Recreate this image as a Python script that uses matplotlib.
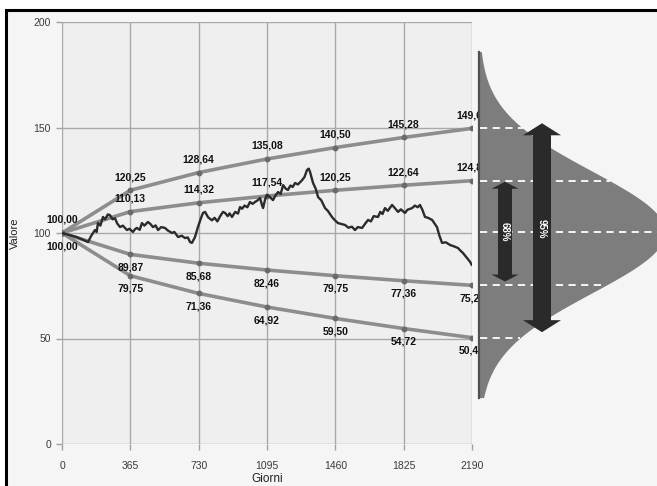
import numpy as np
import matplotlib
matplotlib.use("Agg")
import matplotlib.pyplot as plt
from matplotlib.patches import Rectangle, Polygon
from matplotlib.transforms import Bbox

# ---------------- data ----------------
days = [0, 365, 730, 1095, 1460, 1825, 2190]
upper_95 = [100.00, 120.25, 128.64, 135.08, 140.50, 145.28, 149.60]
upper_68 = [100.00, 110.13, 114.32, 117.54, 120.25, 122.64, 124.80]
lower_68 = [100.00, 89.87, 85.68, 82.46, 79.75, 77.36, 75.20]
lower_95 = [100.00, 79.75, 71.36, 64.92, 59.50, 54.72, 50.40]

path_days = [0, 40, 80, 120, 139, 155, 176, 185, 192, 205, 219, 230, 245, 256, 270, 283, 295, 310,
             325, 347, 360, 379, 390, 400, 415, 427, 440, 459, 472, 486, 500, 513, 530, 550, 565,
             588, 600, 620, 640, 657, 672, 684, 694, 710, 725, 740, 753, 764, 780, 801, 815, 830,
             845, 860, 871, 885, 895, 908, 925, 940, 951, 962, 975, 990, 1004, 1018, 1031, 1045,
             1058, 1068, 1074, 1085, 1095, 1111, 1127, 1140, 1154, 1168, 1181, 1195, 1207, 1220,
             1232, 1245, 1260, 1282, 1295, 1309, 1318, 1325, 1341, 1355, 1368, 1385, 1405, 1420,
             1442, 1458, 1474, 1490, 1512, 1530, 1548, 1565, 1580, 1603, 1620, 1635, 1650, 1665,
             1688, 1700, 1712, 1725, 1740, 1763, 1778, 1795, 1810, 1832, 1845, 1870, 1885, 1900,
             1912, 1925, 1939, 1955, 1977, 1990, 2003, 2015, 2030, 2050, 2073, 2090, 2115, 2130,
             2142, 2160, 2180, 2188]
path_vals = [100, 99, 98, 96.5, 95.7, 98.5, 101.4, 100.5, 104.7, 103.5, 107.6, 106.5, 108.8, 108.5,
             106.5, 107, 104.5, 102.8, 103.5, 101.4, 102, 100.5, 101.8, 102.4, 101.5, 104.7, 103.5,
             105.2, 104.3, 102.8, 103.6, 101.4, 102.8, 102.4, 101.2, 100, 100.5, 98.1, 98.7, 97.6,
             97.9, 95.7, 95.3, 98, 102.5, 106.5, 109.5, 110, 107.5, 106, 107.2, 105.5, 108, 110,
             109.5, 108, 109.3, 107.6, 110, 109.2, 112.3, 111.5, 113, 112.2, 114.7, 113.8, 114.7,
             115.5, 116.6, 113.3, 111.8, 116, 118, 117, 115.6, 117.8, 119.4, 118.5, 122.7, 121,
             120.4, 122.5, 121.8, 123.7, 123, 125, 126.5, 129.9, 130.5, 128.9, 123.7, 121, 117,
             115.5, 111.8, 110.5, 107.6, 106, 104.7, 104.3, 103.8, 102.5, 103, 101.4, 102.8, 102.4,
             104.5, 106.2, 105.5, 108, 107.6, 110, 109, 111.8, 110.5, 113.3, 111.8, 110, 111.2,
             109.5, 111, 111.8, 113, 112.2, 113.3, 111, 107.6, 107.2, 106.2, 104.5, 102.8, 99,
             95.3, 95.6, 94.3, 93.8, 92.9, 91.5, 90.5, 88.5, 86.3, 85]

x_ticks = [0, 365, 730, 1095, 1460, 1825, 2190]
y_ticks = [0, 50, 100, 150, 200]
x_label = "Giorni"
y_label = "Valore"

# distribution on the right
bell_mean = 100.5
bell_sigma = 28.9
bell_low, bell_high = 22, 186
band_levels = [149.60, 124.80, 100.5, 75.20, 50.40]
arrow_68 = (77.0, 124.3)
arrow_95 = (53.0, 152.0)
arrow_labels = ["68%", "95%"]

# ---------------- figure ----------------
W, H = 657, 486
fig = plt.figure(figsize=(W / 100, H / 100), dpi=100, facecolor="white")

def fx(px):
    return px / W

def fy(py):
    return 1 - py / H

# frame / background
fig.add_artist(Rectangle((fx(6), fy(H + 20)), 1.2, fy(10) - fy(H + 20),
                         transform=fig.transFigure, facecolor="#f5f5f5",
                         edgecolor="black", lw=2.2, zorder=-5))

x0p, x1p, y0p, y1p = 62, 472, 444, 22
ax = fig.add_axes([fx(x0p), fy(y0p), fx(x1p) - fx(x0p), fy(y1p) - fy(y0p)])
ax.set_facecolor("#efefef")
ax.set_xlim(0, 2190)
ax.set_ylim(0, 200)
ax.set_xticks(x_ticks)
ax.set_yticks(y_ticks)
for s in ax.spines.values():
    s.set_visible(False)
ax.grid(True, color="#a9a9a9", lw=1.0)
ax.set_axisbelow(True)
ax.tick_params(axis="both", colors="#a0a0a0", length=4, width=1,
               labelcolor="#3a3a3a", labelsize=7.5)
for lab in ax.get_xticklabels() + ax.get_yticklabels():
    lab.set_family("Liberation Sans")
ax.tick_params(axis="x", pad=8)
ax.tick_params(axis="y", pad=4)

fig.text(fx(15), fy(233), y_label, rotation=90, ha="center", va="center",
         fontsize=8, family="Liberation Sans", color="#222222")
fig.text(fx(267), fy(478.5), x_label, ha="center", va="center",
         fontsize=8.5, family="Liberation Sans", color="#222222")

line_col = "#8d8d8d"
for series in (upper_95, upper_68, lower_68, lower_95):
    ax.plot(days, series, color=line_col, lw=2.6, zorder=3, solid_capstyle="round")
    ax.plot(days, series, ls="none", marker="o", ms=3.2, color="#6a6a6a", zorder=4)

ax.plot(path_days, path_vals, color="#2b2b2b", lw=1.7, zorder=5)

def fmt(v):
    return f"{v:.2f}".replace(".", ",")

clipbox = Bbox.from_extents(0, 0, 479, H)
lab_kw = dict(ha="center", va="center", fontsize=7.5, fontweight="bold",
              family="Liberation Sans", color="#111111", zorder=6,
              annotation_clip=False, textcoords="offset points")
off = 9.5  # points

def label(v, d, dy):
    t = ax.annotate(fmt(v), (d, v), xytext=(0, dy), **lab_kw)
    t.set_clip_on(True)
    t.set_clip_box(clipbox)

for i, d in enumerate(days):
    if i == 0:
        label(upper_95[0], d, off)
        label(lower_95[0], d, -off)
        continue
    for series in (upper_95, upper_68):
        label(series[i], d, off)
    for series in (lower_68, lower_95):
        label(series[i], d, -off)

# ---------------- bell panel ----------------
bx0 = 479
ax2 = fig.add_axes([fx(bx0), fy(y0p), fx(W) - fx(bx0), fy(y1p) - fy(y0p)])
ax2.set_xlim(0, W - bx0)
ax2.set_ylim(0, 200)
ax2.axis("off")
ax2.patch.set_alpha(0)

peak = 186
yy = np.linspace(bell_low, bell_high, 400)
xx = peak * np.exp(-0.5 * ((yy - bell_mean) / bell_sigma) ** 2)
ax2.fill_betweenx(yy, 0, xx, color="#7d7d7d", lw=0, clip_on=False, zorder=1)
ax2.plot([0, 0], [bell_low, bell_high], color="#505050", lw=1.6, zorder=2, clip_on=False)

for lvl in band_levels:
    xe = peak * np.exp(-0.5 * ((lvl - bell_mean) / bell_sigma) ** 2)
    ax2.plot([1, xe], [lvl, lvl], color="white", lw=1.3, ls=(0, (4, 3)), zorder=3, clip_on=False)

ppu = (y0p - y1p) / 200.0  # pixels per value unit

def dbl_arrow(xc, ylo, yhi, body, head_w, head_l_px):
    hl = head_l_px / ppu
    pts = [
        (xc, yhi), (xc + head_w / 2, yhi - hl), (xc + body / 2, yhi - hl),
        (xc + body / 2, ylo + hl), (xc + head_w / 2, ylo + hl), (xc, ylo),
        (xc - head_w / 2, ylo + hl), (xc - body / 2, ylo + hl),
        (xc - body / 2, yhi - hl), (xc - head_w / 2, yhi - hl),
    ]
    ax2.add_patch(Polygon(pts, closed=True, facecolor="#2a2a2a", edgecolor="none",
                          zorder=4, clip_on=False))

dbl_arrow(505 - bx0, arrow_68[0], arrow_68[1], 14, 27, 7)
dbl_arrow(542 - bx0, arrow_95[0], arrow_95[1], 18, 38, 12)
ax2.text(505 - bx0, 100.5, arrow_labels[0], rotation=-90, ha="center", va="center",
         color="white", fontsize=7, fontweight="bold", family="Liberation Sans", zorder=5)
ax2.text(542 - bx0, 102, arrow_labels[1], rotation=-90, ha="center", va="center",
         color="white", fontsize=7, fontweight="bold", family="Liberation Sans", zorder=5)

fig.savefig("out.png", dpi=100, facecolor=fig.get_facecolor())
